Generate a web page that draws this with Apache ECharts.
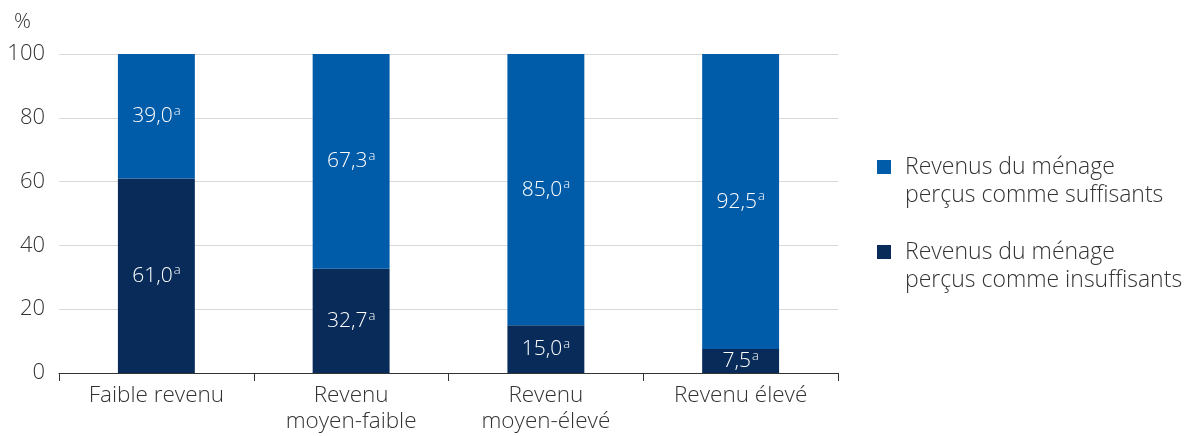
<!DOCTYPE html>
<html>
<head>
<meta charset="utf-8">
<script src="https://cdn.jsdelivr.net/npm/echarts@6/dist/echarts.min.js"></script>
<style>
  html, body { margin: 0; padding: 0; background: #fff; }
  #chart { width: 1192px; height: 436px; }
</style>
</head>
<body>
<div id="chart"></div>
<script>
// Income groups and the share (%) perceiving household income as sufficient / insufficient
const categories = ['Faible revenu', 'Revenu\nmoyen-faible', 'Revenu\nmoyen-élevé', 'Revenu élevé'];
const insuffisants = [61.0, 32.7, 15.0, 7.5];
const suffisants = [39.0, 67.3, 85.0, 92.5];
const yTicks = [0, 20, 40, 60, 80, 100];
const seriesNames = ['Revenus du ménage\nperçus comme suffisants', 'Revenus du ménage\nperçus comme insuffisants'];

const FONT = '"Open Sans", "Noto Sans", sans-serif';
const fmt = v => v.toFixed(1).replace('.', ',');

const labelCfg = {
  show: true,
  position: 'inside',
  formatter: p => '{v|' + fmt(p.value) + '}{s|a}',
  rich: {
    v: { color: '#fff', fontSize: 21, fontFamily: FONT, fontWeight: 300 },
    s: { color: '#fff', fontSize: 13, fontFamily: FONT, fontWeight: 300, padding: [0, 0, 10, 1] }
  }
};

const chart = echarts.init(document.getElementById('chart'), null, { renderer: 'canvas' });
chart.setOption({
  animation: false,
  textStyle: { fontFamily: FONT },
  grid: { left: 59, right: 354, top: 54, bottom: 63 },
  legend: {
    orient: 'vertical',
    left: 872,
    top: 120,
    itemWidth: 14,
    itemHeight: 14,
    itemGap: 1,
    icon: 'rect',
    data: [seriesNames[0], seriesNames[1]],
    // an empty leading line keeps the swatch level with the first line of each name
    formatter: name => '\n' + name,
    textStyle: { fontSize: 23, color: '#333', fontFamily: FONT, fontWeight: 300, lineHeight: 28, padding: [0, 0, 0, 9] }
  },
  xAxis: {
    type: 'category',
    data: categories,
    axisLine: { lineStyle: { color: '#333', width: 1 } },
    axisTick: { show: true, length: 8, lineStyle: { color: '#333' } },
    axisLabel: { fontSize: 22.5, color: '#333', fontFamily: FONT, fontWeight: 300, lineHeight: 26, margin: 10 }
  },
  yAxis: {
    type: 'value',
    min: 0,
    max: 100,
    interval: 20,
    name: '%',
    nameLocation: 'end',
    nameGap: 32,
    nameTextStyle: { fontSize: 21, color: '#333', fontFamily: FONT, fontWeight: 300, align: 'right', verticalAlign: 'middle', padding: [0, 28, 0, 0] },
    axisLine: { show: false },
    axisTick: { show: false },
    axisLabel: {
      fontSize: 22, color: '#333', fontFamily: FONT, fontWeight: 300, margin: 14,
      formatter: v => (yTicks.indexOf(v) >= 0 ? String(v) : '')
    },
    splitLine: { lineStyle: { color: '#d9d9d9', width: 1 } }
  },
  series: [
    {
      name: seriesNames[1],
      type: 'bar',
      stack: 'total',
      barWidth: '39.5%',
      data: insuffisants,
      itemStyle: { color: '#082b59' },
      label: labelCfg
    },
    {
      name: seriesNames[0],
      type: 'bar',
      stack: 'total',
      barWidth: '39.5%',
      data: suffisants,
      itemStyle: { color: '#005ba8' },
      label: labelCfg
    }
  ]
});
</script>
</body>
</html>
